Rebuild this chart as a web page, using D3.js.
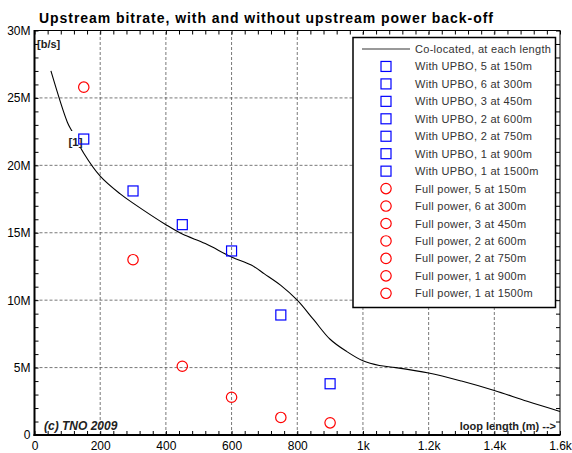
<!DOCTYPE html>
<html><head><meta charset="utf-8">
<script src="https://cdn.jsdelivr.net/npm/d3@7"></script>
<style>body{margin:0;background:#fff}svg{display:block;font-family:"Liberation Sans",Arial,sans-serif}</style>
</head><body><svg id="c" width="572" height="453"></svg>
<script>
const title = "Upstream bitrate, with and without upstream power back-off";
const colocatedLen = [50,100,115,150,200,260,300,400,450,520,600,660,700,750,800,850,900,950,1000,1050,1100,1200,1300,1400,1500,1600];
const colocatedRate = [27.0,23.2,22.5,20.9,19.2,17.9,17.2,15.6,14.9,14.2,13.2,12.6,11.95,11.1,10.0,8.55,7.1,6.2,5.5,5.15,5.0,4.6,4.0,3.3,2.5,1.75];
const pointLen = [150,300,450,600,750,900];
const upboRate = [21.95,18.1,15.6,13.65,8.9,3.8];
const fullRate = [25.8,13.0,5.1,2.8,1.3,0.9];
const xTicks = [0,200,400,600,800,1000,1200,1400,1600];
const xTickLabels = ["0","200","400","600","800","1k","1.2k","1.4k","1.6k"];
const yTicks = [0,5,10,15,20,25,30];
const yTickLabels = ["0","5M","10M","15M","20M","25M","30M"];
const legendLabels = ["Co-located, at each length",
 "With UPBO, 5 at 150m","With UPBO, 6 at 300m","With UPBO, 3 at 450m","With UPBO, 2 at 600m","With UPBO, 2 at 750m","With UPBO, 1 at 900m","With UPBO, 1 at 1500m",
 "Full power, 5 at 150m","Full power, 6 at 300m","Full power, 3 at 450m","Full power, 2 at 600m","Full power, 2 at 750m","Full power, 1 at 900m","Full power, 1 at 1500m"];
const legendKinds = ["line","sq","sq","sq","sq","sq","sq","sq","ci","ci","ci","ci","ci","ci","ci"];

const svg = d3.select("#c");
const X0=34.5, X1=560, Y0=435, Y1=30.5;
const x = d3.scaleLinear().domain([0,1600]).range([X0,X1]);
const y = d3.scaleLinear().domain([0,30]).range([Y0,Y1]);

// grid
const g = svg.append("g");
g.selectAll(".vg").data(xTicks.slice(1,-1)).enter().append("line")
 .attr("x1",d=>x(d)).attr("x2",d=>x(d)).attr("y1",Y0).attr("y2",Y1)
 .attr("stroke","#555").attr("stroke-width",0.8).attr("stroke-dasharray","3,2");
g.selectAll(".hg").data(yTicks.slice(1,-1)).enter().append("line")
 .attr("y1",d=>y(d)).attr("y2",d=>y(d)).attr("x1",X0).attr("x2",X1)
 .attr("stroke","#555").attr("stroke-width",0.8).attr("stroke-dasharray","3,2");

// axes with inward ticks
const xMinor = d3.range(0,1601,40);
const yMinor = d3.range(0,30.01,1);
const axB = d3.axisBottom(x).tickValues(xMinor).tickSize(-4).tickFormat("");
const axT = d3.axisTop(x).tickValues(xMinor).tickSize(-4).tickFormat("");
const axL = d3.axisLeft(y).tickValues(yMinor).tickSize(-4).tickFormat("");
const axR = d3.axisRight(y).tickValues(yMinor).tickSize(-4).tickFormat("");
function styleAx(sel){sel.selectAll("path").remove();sel.selectAll("line").attr("stroke","#000");}
svg.append("g").attr("transform",`translate(0,${Y0})`).call(axB).call(styleAx);
svg.append("g").attr("transform",`translate(0,${Y1})`).call(axT).call(styleAx);
svg.append("g").attr("transform",`translate(${X0},0)`).call(axL).call(styleAx);
svg.append("g").attr("transform",`translate(${X1},0)`).call(axR).call(styleAx);

// tick labels
svg.append("g").attr("transform",`translate(0,${Y0})`)
 .call(d3.axisBottom(x).tickValues(xTicks).tickSize(0).tickPadding(6).tickFormat((d,i)=>xTickLabels[i]))
 .call(s=>{s.select(".domain").remove();s.selectAll("text").attr("font-size",12).attr("font-family","Liberation Sans, Arial").attr("fill","#000");});
svg.append("g").attr("transform",`translate(${X0},0)`)
 .call(d3.axisLeft(y).tickValues(yTicks).tickSize(0).tickPadding(4).tickFormat((d,i)=>yTickLabels[i]))
 .call(s=>{s.select(".domain").remove();s.selectAll("text").attr("font-size",12).attr("font-family","Liberation Sans, Arial").attr("fill","#000");});

// frame
svg.append("line").attr("x1",X0).attr("x2",X1).attr("y1",Y1).attr("y2",Y1).attr("stroke","#000").attr("stroke-width",1);
svg.append("line").attr("x1",X1).attr("x2",X1).attr("y1",Y1).attr("y2",Y0).attr("stroke","#000").attr("stroke-width",1);
svg.append("line").attr("x1",X0).attr("x2",X0).attr("y1",Y1-0.5).attr("y2",Y0+1).attr("stroke","#000").attr("stroke-width",2);
svg.append("line").attr("x1",X0-1).attr("x2",X1+0.5).attr("y1",Y0).attr("y2",Y0).attr("stroke","#000").attr("stroke-width",2);

// co-located line
const lineData = colocatedLen.map((d,i)=>[d,colocatedRate[i]]);
svg.append("path").datum(lineData)
 .attr("d",d3.line().x(d=>x(d[0])).y(d=>y(d[1])).curve(d3.curveCatmullRom.alpha(0.5)))
 .attr("fill","none").attr("stroke","#000").attr("stroke-width",1.1);

// [1] label with white background
svg.append("rect").attr("x",69).attr("y",131).attr("width",13).attr("height",17).attr("fill","#fff");
svg.append("text").attr("x",75.5).attr("y",145.5).attr("text-anchor","middle")
 .attr("font-size",11.5).attr("font-weight","bold").attr("fill","#222").text("[1]");

// points
const upbo = pointLen.map((d,i)=>[d,upboRate[i]]);
const full = pointLen.map((d,i)=>[d,fullRate[i]]);
svg.selectAll(".sq").data(upbo).enter().append("rect")
 .attr("x",d=>x(d[0])-5).attr("y",d=>y(d[1])-5).attr("width",10).attr("height",10)
 .attr("fill","none").attr("stroke","#0000ff").attr("stroke-width",1.2);
svg.selectAll(".ci").data(full).enter().append("circle")
 .attr("cx",d=>x(d[0])).attr("cy",d=>y(d[1])).attr("r",5.2)
 .attr("fill","none").attr("stroke","#ff0000").attr("stroke-width",1.2);

// legend
const L = svg.append("g");
L.append("rect").attr("x",353).attr("y",37.5).attr("width",202.5).attr("height",270)
 .attr("fill","#fff").attr("stroke","#000").attr("stroke-width",1.5);
legendLabels.forEach((t,i)=>{
  const yy = 49 + i*17.45;
  const k = legendKinds[i];
  if(k==="line") L.append("line").attr("x1",362).attr("x2",410).attr("y1",yy).attr("y2",yy).attr("stroke","#777").attr("stroke-width",1.5);
  else if(k==="sq") L.append("rect").attr("x",381).attr("y",yy-5).attr("width",10).attr("height",10).attr("fill","none").attr("stroke","#0000ff").attr("stroke-width",1.2);
  else L.append("circle").attr("cx",386).attr("cy",yy).attr("r",5.2).attr("fill","none").attr("stroke","#ff0000").attr("stroke-width",1.2);
  L.append("text").attr("x",415).attr("y",yy+4).attr("font-size",11).attr("letter-spacing","0.3px").attr("fill","#333").text(t);
});

// texts
svg.append("text").attr("x",39).attr("y",22.5).attr("font-size",14).attr("letter-spacing","0.95px").attr("font-weight","bold").attr("fill","#000").text(title);
svg.append("text").attr("x",37).attr("y",48).attr("font-size",11).attr("font-weight","bold").attr("fill","#222").text("[b/s]");
svg.append("text").attr("x",44).attr("y",430).attr("font-size",12).attr("font-weight","bold").attr("font-style","italic").attr("fill","#222").text("(c) TNO 2009");
svg.append("text").attr("x",556).attr("y",430).attr("text-anchor","end").attr("font-size",11).attr("font-weight","bold").attr("fill","#222").text("loop length (m) -->");
</script></body></html>
